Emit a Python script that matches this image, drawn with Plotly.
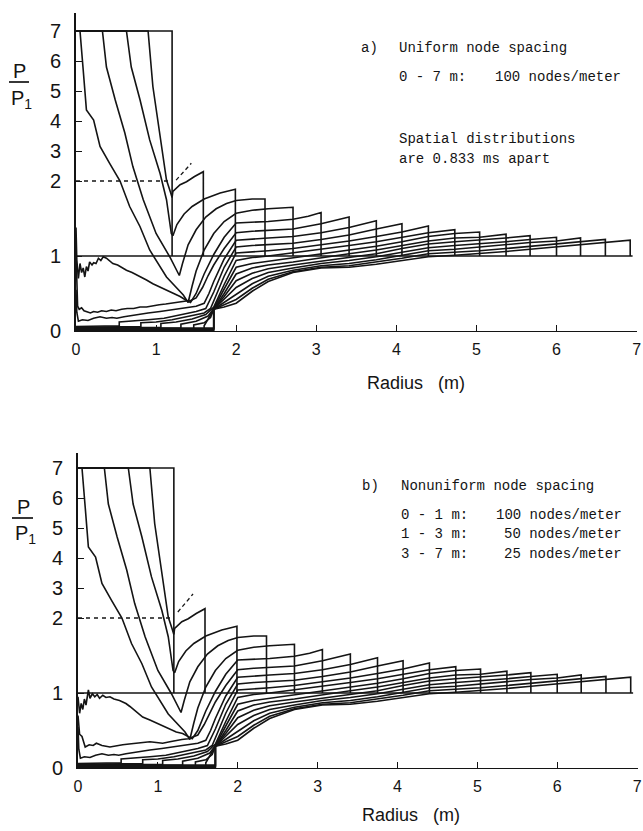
import plotly.graph_objects as go

W, H = 643, 831

# ---------------- axis data ----------------
X_TICKS = [0, 1, 2, 3, 4, 5, 6, 7]
Y_TICKS = [0, 1, 2, 3, 4, 5, 6, 7]
Y_BREAK = 2.0      # axis is linear up to 2, compressed above
Y_SQUEEZE = 0.4    # scale factor of the compressed part
AMBIENT = 1.0      # P/P1 ahead of the shock

# ---------------- spatial distributions (radius m, P/P1) ----------------
snap0 = [(0.0, 7.0), (1.2, 7.0)]
snap1 = [(0.0, 7.0), (0.90, 7.0), (0.96, 5.15), (1.05, 3.48), (1.13, 2.03), (1.18, 1.85),
         (1.20, 1.78), (1.21, 1.86), (1.30, 1.95), (1.38, 1.99), (1.48, 2.15), (1.59, 2.31)]
snap2 = [(0.0, 7.0), (0.63, 7.0), (0.69, 5.8), (0.80, 4.7), (0.92, 3.37), (1.05, 2.25),
         (1.13, 1.75), (1.19, 1.30), (1.21, 1.27), (1.26, 1.42), (1.35, 1.56), (1.45, 1.66),
         (1.60, 1.76), (1.80, 1.84), (1.99, 1.89)]
snap3 = [(0.0, 7.0), (0.33, 7.0), (0.38, 5.8), (0.49, 4.7), (0.61, 3.6), (0.71, 2.48),
         (0.84, 1.75), (1.00, 1.30), (1.17, 0.99), (1.29, 0.74), (1.33, 0.90), (1.40, 1.15),
         (1.50, 1.35), (1.62, 1.52), (1.75, 1.63), (1.88, 1.70), (2.00, 1.74), (2.20, 1.76),
         (2.36, 1.76)]
snap4 = [(0.0, 7.0), (0.05, 7.0), (0.09, 5.7), (0.13, 4.37), (0.22, 4.03), (0.30, 3.15),
         (0.42, 2.59), (0.55, 2.0), (0.67, 1.66), (0.80, 1.39), (0.92, 1.08), (1.13, 0.72),
         (1.34, 0.48), (1.40, 0.38), (1.45, 0.60), (1.50, 0.80), (1.60, 1.08), (1.72, 1.30),
         (1.85, 1.46), (2.00, 1.57), (2.20, 1.61), (2.40, 1.63), (2.71, 1.65)]
core5_a = [(0.0, 1.38), (0.01, 0.95), (0.03, 0.70), (0.05, 0.90), (0.07, 0.78), (0.09, 0.84),
           (0.11, 0.72), (0.13, 0.86), (0.15, 0.80), (0.17, 0.92), (0.20, 0.88), (0.22, 0.91),
           (0.25, 0.90), (0.28, 0.97), (0.31, 0.94), (0.34, 0.99), (0.38, 0.97), (0.42, 0.94),
           (0.46, 0.90), (0.52, 0.88), (0.58, 0.84), (0.63, 0.81), (0.70, 0.78), (0.76, 0.75),
           (0.80, 0.72), (0.88, 0.68), (0.96, 0.63), (1.04, 0.59), (1.13, 0.55), (1.21, 0.50),
           (1.30, 0.46), (1.36, 0.42), (1.43, 0.38)]
core5_b = [(0.0, 0.95), (0.02, 0.73), (0.04, 0.86), (0.06, 0.78), (0.08, 0.92), (0.10, 0.84),
           (0.13, 1.04), (0.15, 0.93), (0.18, 0.99), (0.21, 0.95), (0.24, 0.98), (0.27, 0.93),
           (0.31, 0.97), (0.35, 0.94), (0.40, 0.95), (0.45, 0.92), (0.52, 0.90), (0.60, 0.86),
           (0.65, 0.82), (0.73, 0.75), (0.81, 0.68), (0.90, 0.64), (0.98, 0.60), (1.06, 0.56),
           (1.15, 0.51), (1.23, 0.48), (1.31, 0.46), (1.37, 0.42), (1.43, 0.39)]
rise5 = [(1.50, 0.50), (1.60, 0.76), (1.72, 1.02), (1.85, 1.25), (2.00, 1.44), (2.20, 1.45),
         (2.40, 1.46), (2.71, 1.49), (2.90, 1.53), (3.06, 1.58)]
core6_a = [(0.0, 1.05), (0.01, 0.55), (0.02, 0.33), (0.04, 0.29), (0.07, 0.31), (0.10, 0.27),
           (0.14, 0.26), (0.18, 0.24), (0.22, 0.26), (0.27, 0.25), (0.32, 0.27), (0.38, 0.26),
           (0.44, 0.28), (0.50, 0.27), (0.57, 0.29), (0.64, 0.30), (0.72, 0.30), (0.80, 0.32),
           (0.88, 0.32), (0.96, 0.34), (1.04, 0.35), (1.12, 0.36), (1.20, 0.37), (1.28, 0.38),
           (1.36, 0.39), (1.44, 0.41), (1.50, 0.44)]
core6_b = [(0.0, 0.70), (0.02, 0.45), (0.05, 0.42), (0.09, 0.28), (0.14, 0.31), (0.19, 0.30),
           (0.23, 0.33), (0.30, 0.30), (0.40, 0.28), (0.48, 0.30), (0.56, 0.31), (0.64, 0.32),
           (0.73, 0.33), (0.82, 0.34), (0.90, 0.35), (0.98, 0.34), (1.06, 0.33), (1.15, 0.35),
           (1.23, 0.37), (1.30, 0.38), (1.38, 0.39), (1.44, 0.41), (1.50, 0.44)]
rise6 = [(1.58, 0.58), (1.65, 0.74), (1.72, 0.88), (1.85, 1.10), (2.00, 1.31), (2.20, 1.33),
         (2.40, 1.34), (2.71, 1.36), (3.06, 1.43), (3.41, 1.52)]
snap7 = [(0.0, 0.55), (0.01, 0.25), (0.03, 0.13), (0.08, 0.15), (0.15, 0.14), (0.22, 0.17),
         (0.30, 0.19), (0.38, 0.17), (0.45, 0.18), (0.51, 0.17), (0.60, 0.19), (0.71, 0.21),
         (0.80, 0.22), (0.90, 0.24), (1.05, 0.26), (1.20, 0.28), (1.34, 0.30), (1.50, 0.33),
         (1.60, 0.37), (1.66, 0.50), (1.72, 0.66), (1.85, 0.96), (2.00, 1.21), (2.20, 1.23),
         (2.40, 1.24), (2.71, 1.26), (3.06, 1.31), (3.41, 1.38), (3.75, 1.47)]
snap8 = [(0.0, 0.06), (0.30, 0.06), (0.54, 0.07), (0.54, 0.12), (0.70, 0.13), (0.90, 0.15),
         (1.10, 0.17), (1.30, 0.21), (1.50, 0.26), (1.62, 0.30), (1.67, 0.40), (1.72, 0.52),
         (1.85, 0.85), (2.00, 1.12), (2.20, 1.14), (2.40, 1.15), (2.71, 1.17), (3.06, 1.22),
         (3.41, 1.28), (3.75, 1.36), (4.07, 1.43)]
snap9 = [(0.0, 0.05), (0.50, 0.05), (0.81, 0.06), (0.81, 0.11), (1.00, 0.12), (1.20, 0.15),
         (1.40, 0.19), (1.60, 0.24), (1.68, 0.30), (1.72, 0.40), (1.85, 0.73), (2.00, 1.04),
         (2.20, 1.06), (2.40, 1.07), (2.71, 1.10), (3.06, 1.15), (3.41, 1.20), (3.75, 1.26),
         (4.07, 1.32), (4.40, 1.40)]
snap10 = [(0.0, 0.04), (0.60, 0.04), (1.06, 0.05), (1.06, 0.10), (1.25, 0.12), (1.45, 0.16),
          (1.62, 0.22), (1.72, 0.32), (1.85, 0.62), (2.00, 0.94), (2.20, 0.98), (2.40, 1.00),
          (2.71, 1.04), (3.06, 1.09), (3.41, 1.14), (3.75, 1.19), (4.07, 1.25), (4.40, 1.31),
          (4.73, 1.35)]
snap11 = [(0.0, 0.03), (0.70, 0.03), (1.31, 0.04), (1.31, 0.09), (1.50, 0.13), (1.65, 0.20),
          (1.72, 0.30), (1.85, 0.56), (2.00, 0.85), (2.20, 0.90), (2.40, 0.93), (2.71, 0.97),
          (3.06, 1.03), (3.41, 1.08), (3.75, 1.13), (4.07, 1.19), (4.40, 1.26), (4.73, 1.30),
          (5.04, 1.32)]
snap12 = [(0.0, 0.03), (1.00, 0.03), (1.47, 0.03), (1.47, 0.08), (1.60, 0.11), (1.68, 0.18),
          (1.72, 0.29), (1.85, 0.50), (2.00, 0.76), (2.20, 0.84), (2.40, 0.88), (2.71, 0.92),
          (3.06, 0.98), (3.41, 1.03), (3.75, 1.08), (4.07, 1.14), (4.40, 1.20), (4.73, 1.24),
          (5.04, 1.25), (5.37, 1.29)]
snap13 = [(0.0, 0.02), (1.60, 0.02), (1.60, 0.07), (1.72, 0.29), (1.85, 0.46), (2.00, 0.67),
          (2.20, 0.77), (2.40, 0.83), (2.71, 0.88), (3.06, 0.93), (3.41, 0.98), (3.75, 1.03),
          (4.07, 1.10), (4.40, 1.16), (4.73, 1.19), (5.04, 1.21), (5.37, 1.24), (5.67, 1.27)]
snap14 = [(0.0, 0.04), (1.72, 0.04), (1.72, 0.29), (1.85, 0.42), (2.00, 0.58), (2.20, 0.70),
          (2.40, 0.78), (2.71, 0.84), (3.06, 0.90), (3.41, 0.94), (3.75, 0.99), (4.07, 1.05),
          (4.40, 1.11), (4.73, 1.14), (5.04, 1.16), (5.37, 1.19), (5.67, 1.22), (6.00, 1.25)]
snap15 = [(0.0, 0.03), (1.72, 0.03), (1.72, 0.29), (1.85, 0.38), (2.00, 0.49), (2.20, 0.63),
          (2.40, 0.73), (2.71, 0.81), (3.06, 0.87), (3.41, 0.90), (3.75, 0.95), (4.07, 1.01),
          (4.40, 1.07), (4.73, 1.09), (5.04, 1.12), (5.37, 1.15), (5.67, 1.18), (6.00, 1.20),
          (6.30, 1.24)]
snap16 = [(0.0, 0.02), (1.72, 0.02), (1.72, 0.29), (1.85, 0.35), (2.00, 0.42), (2.20, 0.57),
          (2.40, 0.69), (2.71, 0.79), (3.06, 0.85), (3.41, 0.87), (3.75, 0.92), (4.07, 0.97),
          (4.40, 1.03), (4.73, 1.05), (5.04, 1.07), (5.37, 1.10), (5.67, 1.13), (6.00, 1.16),
          (6.30, 1.19), (6.61, 1.22)]
snap17 = [(0.0, 0.01), (1.72, 0.01), (1.72, 0.29), (1.85, 0.32), (2.00, 0.37), (2.20, 0.53),
          (2.40, 0.66), (2.71, 0.78), (3.06, 0.84), (3.41, 0.85), (3.75, 0.89), (4.07, 0.94),
          (4.40, 0.99), (4.73, 1.01), (5.04, 1.03), (5.37, 1.06), (5.67, 1.09), (6.00, 1.12),
          (6.30, 1.15), (6.61, 1.18), (6.92, 1.21)]

ambient_line = [(0.0, 1.0), (6.95, 1.0)]
dash_level = [(0.0, 2.0), (1.2, 2.0)]
dash_slope_a = [(1.25, 2.03), (1.44, 2.59)]
dash_slope_b = [(1.25, 2.2), (1.44, 2.8)]

panel_a_snaps = [snap0, snap1, snap2, snap3, snap4, core5_a + rise5, core6_a + rise6,
                 snap7, snap8, snap9, snap10, snap11, snap12, snap13, snap14, snap15,
                 snap16, snap17]
panel_b_snaps = [snap0, snap1, snap2, snap3, snap4, core5_b + rise5, core6_b + rise6,
                 snap7, snap8, snap9, snap10, snap11, snap12, snap13, snap14, snap15,
                 snap16, snap17]


def ty(p):
    return p if p <= Y_BREAK else Y_BREAK + (p - Y_BREAK) * Y_SQUEEZE


INK = "#141414"
fig = go.Figure()


def add_line(pts, xa, ya, dash=None, width=1.6):
    fig.add_trace(go.Scatter(
        x=[p[0] for p in pts], y=[ty(p[1]) for p in pts], mode="lines",
        line=dict(color=INK, width=width, dash=dash), xaxis=xa, yaxis=ya,
        hoverinfo="skip", showlegend=False))


for snaps, xa, ya, slope in [(panel_a_snaps, "x", "y", dash_slope_a),
                             (panel_b_snaps, "x2", "y2", dash_slope_b)]:
    add_line(ambient_line, xa, ya)
    for s in snaps:
        add_line(s + [(s[-1][0], AMBIENT)], xa, ya)
    add_line(dash_level, xa, ya, dash="4px,4px", width=1.3)
    add_line(slope, xa, ya, dash="4px,3px", width=1.3)

TICK_FONT = dict(family="Liberation Sans", size=16, color=INK)
MONO = "Liberation Mono"


def xaxis_cfg(domain, anchor):
    return dict(domain=domain, range=[0, 7.005], tickvals=X_TICKS, ticktext=[str(v) for v in X_TICKS],
                showline=True, linecolor=INK, linewidth=1.4, ticks="inside", ticklen=6,
                tickwidth=1.3, tickcolor=INK, showgrid=False, zeroline=False, automargin=False,
                tickfont=TICK_FONT, ticklabelstandoff=4, anchor=anchor)


def yaxis_cfg(domain, top, anchor):
    return dict(domain=domain, range=[0, ty(top)], tickvals=[ty(v) for v in Y_TICKS],
                ticktext=[str(v) for v in Y_TICKS], showline=True, linecolor=INK, linewidth=1.6,
                ticks="inside", ticklen=6, tickwidth=1.3, tickcolor=INK, showgrid=False,
                zeroline=False, automargin=False,
                tickfont=dict(family="Liberation Sans", size=20, color=INK),
                ticklabelstandoff=9, anchor=anchor)


xa1 = xaxis_cfg([76 / W, 637 / W], "y")
xa2 = xaxis_cfg([78 / W, 637.5 / W], "y2")
ya1 = yaxis_cfg([1 - 331 / H, 1 - 13 / H], 7.6, "x")
ya2 = yaxis_cfg([1 - 768 / H, 1 - 453 / H], 7.5, "x2")


def note(text, px, py, xanchor="left", size=14, family=MONO):
    return dict(text=text, x=px / W, y=1 - py / H, xref="paper", yref="paper",
                xanchor=xanchor, yanchor="middle", showarrow=False, borderpad=0,
                font=dict(family=family, size=size, color=INK))


SANS = "Liberation Sans"
NB = "\u00a0"
annotations = [
    note("a)", 360, 48), note("Uniform node spacing", 398, 48),
    note("0 - 7 m:", 398, 77), note("100 nodes/meter", 622, 77, xanchor="right"),
    note("Spatial distributions", 398, 139), note("are 0.833 ms apart", 398, 159),
    note("b)", 361, 486), note("Nonuniform node spacing", 400, 486),
    note("0 - 1 m:", 400, 515), note("100 nodes/meter", 623, 515, xanchor="right"),
    note("1 - 3 m:", 400, 534), note("50 nodes/meter", 623, 534, xanchor="right"),
    note("3 - 7 m:", 400, 554), note("25 nodes/meter", 623, 554, xanchor="right"),
    note("Radius" + NB * 3 + "(m)", 416, 383, xanchor="center", size=18, family=SANS),
    note("Radius" + NB * 3 + "(m)", 411, 815, xanchor="center", size=18, family=SANS),
    note("P", 19, 71, xanchor="center", size=20, family=SANS),
    note("P<sub>1</sub>", 21, 99, xanchor="center", size=20, family=SANS),
    note("P", 23, 507, xanchor="center", size=20, family=SANS),
    note("P<sub>1</sub>", 25, 534, xanchor="center", size=20, family=SANS),
]

shapes = [
    dict(type="line", xref="paper", yref="paper", x0=9 / W, x1=29 / W, y0=1 - 82 / H, y1=1 - 82 / H,
         line=dict(color=INK, width=1.7)),
    dict(type="line", xref="paper", yref="paper", x0=12 / W, x1=33 / W, y0=1 - 518 / H, y1=1 - 518 / H,
         line=dict(color=INK, width=1.7)),
]

fig.update_layout(
    width=W, height=H, margin=dict(l=0, r=0, t=0, b=0, autoexpand=False),
    paper_bgcolor="white", plot_bgcolor="white",
    xaxis=xa1, yaxis=ya1, xaxis2=xa2, yaxis2=ya2,
    annotations=annotations, shapes=shapes, showlegend=False,
)

fig.write_html("out.html", config={"displayModeBar": False},
               post_script="document.body.style.margin='0px';")
